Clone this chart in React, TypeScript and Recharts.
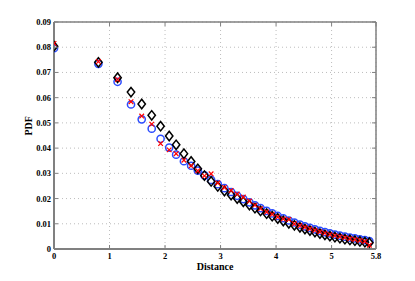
import React from 'react';
import { ScatterChart, Scatter, XAxis, YAxis, CartesianGrid, ReferenceLine } from 'recharts';

const distances = [
  0, 0.8, 1.145, 1.387, 1.58, 1.76, 1.92, 2.075,
  2.2, 2.34, 2.47, 2.59, 2.71, 2.83, 2.95, 3.07, 3.19, 3.3, 3.41, 3.52, 3.62, 3.72, 3.83, 3.93,
  4.03, 4.13, 4.23, 4.33, 4.43, 4.52, 4.61, 4.7, 4.79, 4.88, 4.97, 5.06, 5.15, 5.24, 5.33, 5.42, 5.51, 5.6, 5.68,
];

const pdfCircle = [
  0.0796, 0.0734, 0.0663, 0.0573, 0.0514, 0.0477, 0.0437, 0.0402,
  0.0374, 0.0348, 0.033, 0.0311, 0.0292, 0.0274, 0.0257, 0.0241, 0.0226, 0.0211, 0.0198, 0.0185, 0.0173, 0.0162, 0.0151, 0.0141,
  0.0131, 0.0122, 0.0113, 0.0105, 0.0097, 0.009, 0.0084, 0.0078, 0.0072, 0.0067, 0.0062, 0.0057, 0.0053, 0.0049, 0.0045, 0.0042, 0.0038, 0.0035, 0.0031,
];

const pdfDiamond = [
  0.0804, 0.074, 0.0679, 0.0622, 0.0575, 0.053, 0.0487, 0.0448,
  0.0413, 0.0378, 0.0347, 0.0318, 0.0291, 0.0268, 0.0248, 0.023, 0.0214, 0.02, 0.0187, 0.0174, 0.0162, 0.0151, 0.014, 0.013,
  0.0121, 0.0111, 0.0102, 0.0094, 0.0086, 0.0079, 0.0073, 0.0067, 0.0061, 0.0056, 0.0051, 0.0047, 0.0043, 0.0039, 0.0036, 0.0033, 0.003, 0.0027, 0.0025,
];

const pdfCross = [
  0.0815, 0.0743, 0.0672, 0.0584, 0.0527, 0.0495, 0.0418, 0.0393,
  0.0378, 0.0352, 0.033, 0.031, 0.029, 0.0298, 0.0262, 0.0244, 0.0232, 0.0218, 0.0206, 0.019, 0.0174, 0.016, 0.0147, 0.0138,
  0.0127, 0.0119, 0.0117, 0.01, 0.0093, 0.0086, 0.008, 0.0074, 0.0068, 0.0063, 0.0058, 0.0053, 0.0049, 0.0045, 0.0041, 0.0038, 0.0034, 0.003, 0.0015,
];

const xTicks = [0, 1, 2, 3, 4, 5, 5.8];
const yTicks = [0, 0.01, 0.02, 0.03, 0.04, 0.05, 0.06, 0.07, 0.08, 0.09];

const W = 415;
const H = 281;
const M = { top: 22, right: 39, bottom: 12, left: 14 };
const Y_AXIS_W = 40;
const X_AXIS_H = 20;
const PLOT_L = M.left + Y_AXIS_W;
const PLOT_R = W - M.right;
const PLOT_T = M.top;
const PLOT_B = H - M.bottom - X_AXIS_H;

const FONT = '"Liberation Serif", "DejaVu Serif", serif';
const AXIS_GRAY = '#808080';

const circleData = distances.map((d, i) => ({ x: d, y: pdfCircle[i] }));
const diamondData = distances.map((d, i) => ({ x: d, y: pdfDiamond[i] }));
const crossData = distances.map((d, i) => ({ x: d, y: pdfCross[i] }));

const CircleShape = (props: any) => {
  const { cx, cy } = props;
  if (cx == null || cy == null) return null;
  return <circle cx={cx} cy={cy} r={3.6} fill="none" stroke="#2b4cff" strokeWidth={1.5} />;
};

const DiamondShape = (props: any) => {
  const { cx, cy } = props;
  if (cx == null || cy == null) return null;
  const w = 3.7;
  const h = 4.7;
  return (
    <path
      d={`M${cx},${cy - h} L${cx + w},${cy} L${cx},${cy + h} L${cx - w},${cy} Z`}
      fill="none"
      stroke="#000"
      strokeWidth={1.5}
    />
  );
};

const CrossShape = (props: any) => {
  const { cx, cy } = props;
  if (cx == null || cy == null) return null;
  const s = 2.3;
  return (
    <path
      d={`M${cx - s},${cy - s} L${cx + s},${cy + s} M${cx - s},${cy + s} L${cx + s},${cy - s}`}
      stroke="#ff0000"
      strokeWidth={1.2}
      fill="none"
    />
  );
};

const YTick = (props: any) => {
  const { x, y, payload } = props;
  const v = payload.value;
  const label = v === 0 ? '0' : v.toFixed(2);
  return (
    <g>
      <line x1={PLOT_L} x2={PLOT_L + 4} y1={y} y2={y} stroke={AXIS_GRAY} strokeWidth={1} />
      <line x1={PLOT_R - 4} x2={PLOT_R} y1={y} y2={y} stroke={AXIS_GRAY} strokeWidth={1} />
      <text x={x} y={y} textAnchor="end" dominantBaseline="central" fontFamily={FONT} fontWeight="bold" fontSize={8.5} fill="#000">
        {label}
      </text>
    </g>
  );
};

const XTick = (props: any) => {
  const { x, y, payload } = props;
  const v = payload.value;
  return (
    <g>
      <line x1={x} x2={x} y1={PLOT_B} y2={PLOT_B - 4} stroke={AXIS_GRAY} strokeWidth={1} />
      <line x1={x} x2={x} y1={PLOT_T} y2={PLOT_T + 4} stroke={AXIS_GRAY} strokeWidth={1} />
      <text x={x} y={y + 7} textAnchor="middle" dominantBaseline="central" fontFamily={FONT} fontWeight="bold" fontSize={8.5} fill="#000">
        {String(v)}
      </text>
    </g>
  );
};

export default function App() {
  return (
    <div style={{ position: 'absolute', left: 0, top: 0, width: W, height: H, background: '#fff' }}>
      <ScatterChart width={W} height={H} margin={M}>
        <CartesianGrid stroke="#bdbdbd" strokeDasharray="1 3" strokeWidth={1} />
        <XAxis
          type="number"
          dataKey="x"
          domain={[0, 5.8]}
          ticks={xTicks}
          interval={0}
          height={X_AXIS_H}
          tickSize={0}
          tickMargin={0}
          tick={<XTick />}
          axisLine={{ stroke: AXIS_GRAY, strokeWidth: 2 }}
          allowDataOverflow
          label={{ value: 'Distance', position: 'insideBottom', offset: -1, fontFamily: FONT, fontWeight: 'bold', fontSize: 10, fill: '#000' }}
        />
        <YAxis
          type="number"
          dataKey="y"
          domain={[0, 0.09]}
          ticks={yTicks}
          interval={0}
          width={Y_AXIS_W}
          tickSize={0}
          tickMargin={3}
          tick={<YTick />}
          axisLine={{ stroke: AXIS_GRAY, strokeWidth: 2 }}
          allowDataOverflow
          label={{ value: 'PDF', angle: -90, position: 'insideLeft', offset: 14, fontFamily: FONT, fontWeight: 'bold', fontSize: 10, fill: '#000' }}
        />
        <ReferenceLine y={0.09} stroke={AXIS_GRAY} strokeWidth={1.5} ifOverflow="visible" />
        <ReferenceLine x={5.8} stroke={AXIS_GRAY} strokeWidth={1.5} ifOverflow="visible" />
        <Scatter data={circleData} shape={<CircleShape />} isAnimationActive={false} />
        <Scatter data={diamondData} shape={<DiamondShape />} isAnimationActive={false} />
        <Scatter data={crossData} shape={<CrossShape />} isAnimationActive={false} />
      </ScatterChart>
    </div>
  );
}
